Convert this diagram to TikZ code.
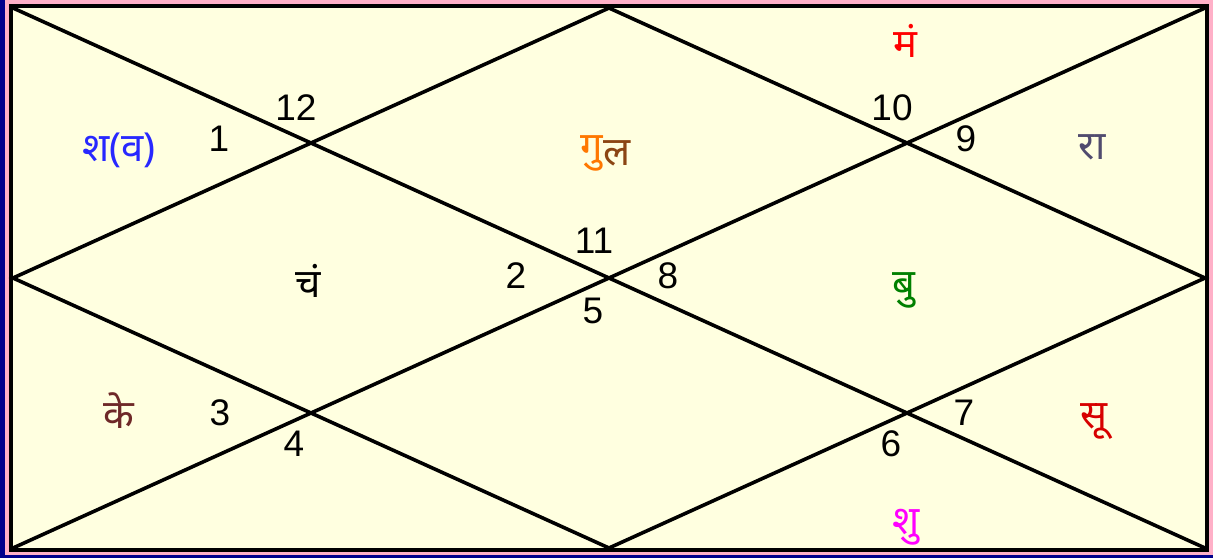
\documentclass[tikz,border=0pt]{standalone}
\usepackage{fontspec}
\setmainfont{Liberation Sans}
\newfontfamily\devfont[Script=Devanagari]{Noto Sans}
\definecolor{cream}{RGB}{255,255,224}
\definecolor{framepink}{RGB}{255,176,200}
\definecolor{shadownavy}{RGB}{0,0,140}
\definecolor{sanicol}{RGB}{40,40,255}
\definecolor{gurucol}{RGB}{255,119,0}
\definecolor{lagnacol}{RGB}{139,69,19}
\definecolor{mangalcol}{RGB}{255,0,0}
\definecolor{rahucol}{RGB}{80,75,110}
\definecolor{budhcol}{RGB}{0,128,0}
\definecolor{ketucol}{RGB}{110,40,40}
\definecolor{suryacol}{RGB}{215,0,0}
\definecolor{shukracol}{RGB}{255,0,255}
\tikzset{
  num/.style={inner sep=0pt, font=\fontsize{37}{40}\selectfont},
  planet/.style={inner sep=0pt, font=\devfont\fontsize{40}{44}\selectfont},
  chartline/.style={line width=3.6pt, black},
}
\begin{document}
\begin{tikzpicture}[x=1pt,y=-1pt]
\useasboundingbox (0,0) rectangle (1213,558);
% border layers
\fill[shadownavy] (0,0) rectangle (1213,558);
\fill[framepink] (5,0) rectangle (1213,555);
\fill[black] (9,4) rectangle (1209,552);
\fill[cream] (13,8) rectangle (1205,548);
% named corner and midpoint coordinates
\coordinate (tl) at (13,8);
\coordinate (tr) at (1205,8);
\coordinate (bl) at (13,548);
\coordinate (br) at (1205,548);
\coordinate (tm) at (609,8);
\coordinate (bm) at (609,548);
\coordinate (lm) at (13,278);
\coordinate (rm) at (1205,278);
% diagonals
\draw[chartline] (tl) -- (br);
\draw[chartline] (tr) -- (bl);
% diamond
\draw[chartline] (tm) -- (rm) -- (bm) -- (lm) -- cycle;
% house numbers
\node[num] (n1) at (219,139) {1};
\node[num] (n12) at (296,108) {12};
\node[num] (n10) at (892,108) {10};
\node[num] (n9) at (966,139) {9};
\node[num] (n11) at (594,241) {11};
\node[num] (n2) at (516,276) {2};
\node[num] (n8) at (668,276) {8};
\node[num] (n5) at (593,311) {5};
\node[num] (n3) at (220,413) {3};
\node[num] (n4) at (294,444) {4};
\node[num] (n6) at (891,444) {6};
\node[num] (n7) at (964,413) {7};
% planets
\node[planet, text=sanicol] (sa) at (119,150) {श(व)};
\node[planet, text=gurucol, anchor=east] (gu) at (603,153) {गु};
\node[planet, text=lagnacol, anchor=west] (la) at (603,153) {ल};
\node[planet, text=mangalcol] (ma) at (905,41) {मं};
\node[planet, text=rahucol] (ra) at (1092,147) {रा};
\node[planet, text=black] (ch) at (308,281) {चं};
\node[planet, text=budhcol] (bu) at (904,290) {बु};
\node[planet, text=ketucol] (ke) at (119,411) {के};
\node[planet, text=suryacol] (su) at (1094,422) {सू};
\node[planet, text=shukracol] (sh) at (906,527) {शु};
\end{tikzpicture}
\end{document}
